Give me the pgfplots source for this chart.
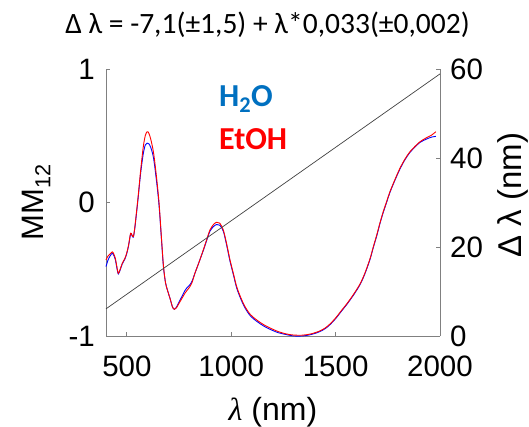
\documentclass[border=0pt]{standalone}
\usepackage{pgfplots}
\pgfplotsset{compat=1.18}
\usepackage{fontspec}
\setmainfont{Liberation Sans}
\newfontfamily\carlito{Carlito}
\newfontfamily\lserif{Liberation Serif}
\definecolor{h2oblue}{RGB}{0,112,192}
\definecolor{axgray}{RGB}{128,128,128}
\begin{document}
\begin{tikzpicture}
\path[use as bounding box] (0,0) rectangle (529pt,427pt);
\pgfplotsset{
  common/.style={
    at={(106pt,91pt)}, anchor=south west,
    scale only axis, width=334pt, height=267pt,
    xmin=400, xmax=2000, clip=false,
    axis line style={-, axgray, line width=0.9pt},
    tick style={axgray, line width=0.9pt},
    major tick length=4pt, tick align=inside,
    ticklabel style={font=\fontsize{29.5}{31}\selectfont, black, inner sep=0pt},
    /pgf/number format/assume math mode=true,
  }
}
\begin{axis}[common,
  ymin=-1, ymax=1,
  axis x line*=bottom, axis y line*=left,
  xtick={500,1000,1500,2000}, xticklabels={500,1000,1500,2000},
  xticklabel style={yshift=-20pt},
  yticklabel style={xshift=-11pt},
  ytick={-1,0,1}, yticklabels={-1,0,1},
]
\addplot[blue, line width=0.9pt, smooth, tension=0.5] coordinates {
(400,-0.48)(410,-0.43)(420,-0.40)(430,-0.38)(437,-0.395)(445,-0.43)(452,-0.49)(459,-0.535)
(468,-0.505)(478,-0.46)(490,-0.425)(499,-0.385)(508,-0.325)(518,-0.235)(525,-0.25)(531,-0.26)
(537,-0.205)(542,-0.14)(553,0.02)(566,0.22)(578,0.36)(588,0.43)(597,0.445)(605,0.44)
(615,0.41)(628,0.33)(642,0.16)(654,-0.02)(665,-0.26)(675,-0.48)(685,-0.60)(695,-0.66)
(707,-0.72)(718,-0.78)(727,-0.80)(737,-0.785)(750,-0.745)(765,-0.70)(778,-0.66)(790,-0.635)
(800,-0.62)(812,-0.59)(826,-0.53)(845,-0.45)(866,-0.36)(882,-0.285)(898,-0.215)(915,-0.18)
(930,-0.165)(945,-0.17)(962,-0.215)(978,-0.32)(994,-0.44)(1010,-0.54)(1026,-0.64)(1045,-0.72)
(1066,-0.79)(1092,-0.85)(1122,-0.89)(1155,-0.925)(1186,-0.95)(1225,-0.975)(1265,-0.99)(1300,-1.0)
(1340,-1.0)(1380,-0.99)(1420,-0.97)(1450,-0.945)(1473,-0.915)(1500,-0.87)(1530,-0.81)(1553,-0.765)
(1585,-0.695)(1617,-0.615)(1640,-0.535)(1665,-0.425)(1680,-0.34)(1697,-0.25)(1712,-0.16)(1728,-0.075)
(1745,0.005)(1760,0.075)(1785,0.17)(1808,0.25)(1832,0.32)(1856,0.375)(1880,0.415)(1904,0.45)
(1935,0.475)(1960,0.49)(1980,0.495)
};
\addplot[red, line width=0.9pt, smooth, tension=0.5] coordinates {
(400,-0.43)(410,-0.40)(420,-0.385)(430,-0.37)(437,-0.385)(445,-0.42)(452,-0.48)(459,-0.53)
(468,-0.50)(478,-0.455)(490,-0.42)(499,-0.38)(508,-0.32)(518,-0.23)(525,-0.245)(531,-0.255)
(537,-0.20)(542,-0.13)(553,0.03)(566,0.24)(578,0.41)(588,0.50)(597,0.53)(605,0.52)
(615,0.47)(628,0.37)(642,0.19)(654,0.0)(665,-0.25)(675,-0.47)(685,-0.60)(695,-0.66)
(707,-0.72)(718,-0.78)(727,-0.80)(737,-0.79)(750,-0.755)(765,-0.715)(778,-0.68)(790,-0.655)
(800,-0.635)(812,-0.60)(826,-0.53)(845,-0.45)(866,-0.356)(882,-0.28)(898,-0.206)(915,-0.165)
(930,-0.148)(945,-0.155)(962,-0.206)(978,-0.31)(994,-0.43)(1010,-0.53)(1026,-0.63)(1045,-0.71)
(1066,-0.78)(1092,-0.84)(1122,-0.88)(1155,-0.915)(1186,-0.94)(1225,-0.967)(1265,-0.985)(1300,-0.993)
(1340,-0.994)(1380,-0.985)(1420,-0.965)(1450,-0.94)(1473,-0.91)(1500,-0.865)(1530,-0.805)(1553,-0.76)
(1585,-0.69)(1617,-0.61)(1640,-0.53)(1665,-0.42)(1680,-0.335)(1697,-0.243)(1712,-0.155)(1728,-0.069)
(1745,0.01)(1760,0.08)(1785,0.175)(1808,0.256)(1832,0.325)(1856,0.38)(1880,0.42)(1904,0.455)
(1935,0.485)(1960,0.505)(1980,0.53)
};
\node[anchor=center, font=\fontsize{32}{34}\selectfont] at (axis description cs:0.5,-0.285) {{\lserif\itshape λ} (nm)};
\node[anchor=center, rotate=90, font=\fontsize{31}{33}\selectfont] at (axis description cs:-0.208,0.5) {MM\textsubscript{12}};
\node[anchor=center, font=\carlito\fontsize{29.5}{31}\selectfont] at (axis description cs:0.4835,1.165) {Δ λ = -7,1(±1,5) + λ*0,033(±0,002)};
\node[anchor=base west, inner sep=0pt, text=h2oblue, font=\carlito\bfseries\fontsize{32}{34}\selectfont] at (axis description cs:0.338,0.859) {H\textsubscript{2}O};
\node[anchor=base west, inner sep=0pt, text=red, font=\carlito\bfseries\fontsize{32}{34}\selectfont] at (axis description cs:0.338,0.697) {EtOH};
\end{axis}
\begin{axis}[common,
  ymin=0, ymax=60,
  axis x line=none, axis y line*=right,
  yticklabel style={xshift=10pt},
  ytick={0,20,40,60}, yticklabels={0,20,40,60},
]
\addplot[black!75, line width=0.7pt] coordinates {(400,6.1)(2000,58.9)};
\node[anchor=center, rotate=90, font=\fontsize{33}{35}\selectfont] at (axis description cs:1.219,0.528) {Δ λ (nm)};
\end{axis}
\end{tikzpicture}
\end{document}
